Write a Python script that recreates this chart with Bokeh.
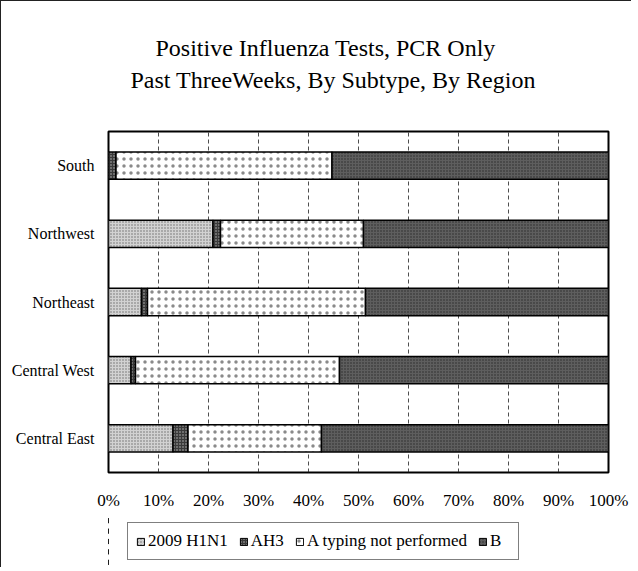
from bokeh.plotting import figure
from bokeh.layouts import column
from bokeh.models import FactorRange, Range1d, Legend, LegendItem, Title, FixedTicker, ColumnDataSource
from bokeh.embed import file_html
from bokeh.resources import INLINE

# ---- data ----
regions = ["Central East", "Central West", "Northeast", "Northwest", "South"]
h1n1 = [12.9, 4.5, 6.6, 20.9, 0.0]
ah3 = [3.0, 0.9, 1.2, 1.5, 1.5]
a_not_typed = [26.7, 40.8, 43.6, 28.6, 43.2]
b = [57.4, 53.8, 48.6, 49.0, 55.3]
series_names = ["2009 H1N1", "AH3", "A typing not performed", "B"]
tick_values = [0, 10, 20, 30, 40, 50, 60, 70, 80, 90, 100]
tick_labels = ["0%", "10%", "20%", "30%", "40%", "50%", "60%", "70%", "80%", "90%", "100%"]
title_lines = ["Positive Influenza  Tests, PCR Only", "Past ThreeWeeks, By Subtype, By Region"]

keys = ["h1n1", "ah3", "atnp", "b"]
source = ColumnDataSource(data=dict(region=regions, h1n1=h1n1, ah3=ah3, atnp=a_not_typed, b=b))

FONT = "Liberation Serif"
fills = ["#d2d2d2", "#3a3a3a", "#ffffff", "#5e5e5e"]
hatch_colors = ["#6a6a6a", "#bbbbbb", "#8a8a8a", "#2a2a2a"]
hatch_scales = [3, 3, 7, 3]
hatch_weights = [1, 1, 0.6, 1]

p = figure(frame_width=499, frame_height=340, output_backend="svg", toolbar_location=None,
           y_range=FactorRange(*regions, range_padding=0), x_range=Range1d(0, 100),
           min_border_left=107, min_border_right=24, min_border_bottom=44, min_border_top=130)
p.styles = {"border-left": "1px solid #222", "border-top": "1px solid #222"}

p.outline_line_color = "black"
p.outline_line_width = 2
p.background_fill_color = "white"
p.border_fill_color = "white"

renderers = p.hbar_stack(keys, y="region", height=0.4, source=source,
                         fill_color=fills, hatch_pattern=[".", ".", ".", "."],
                         hatch_color=hatch_colors, hatch_scale=hatch_scales,
                         hatch_weight=hatch_weights,
                         line_color="black", line_width=1.5)

# axes
p.xaxis.ticker = FixedTicker(ticks=tick_values)
p.xaxis.major_label_overrides = {v: l for v, l in zip(tick_values, tick_labels)}
p.xaxis.major_label_text_font = FONT
p.xaxis.major_label_text_font_size = "17px"
p.xaxis.major_label_text_color = "black"
p.xaxis.major_label_standoff = 12
p.xaxis.axis_line_color = None
p.xaxis.major_tick_line_color = None
p.xaxis.minor_tick_line_color = None

p.yaxis.major_label_text_font = FONT
p.yaxis.major_label_text_font_size = "16px"
p.yaxis.major_label_text_color = "black"
p.yaxis.major_label_standoff = 8
p.yaxis.axis_line_color = None
p.yaxis.major_tick_line_color = None

p.xgrid.grid_line_color = "#222222"
p.xgrid.grid_line_dash = "4 3"
p.xgrid.grid_line_width = 1
p.xgrid.grid_line_alpha = 0.8
p.ygrid.grid_line_color = None

# title (two lines)
t2 = Title(text=title_lines[1], align="left", text_font=FONT, text_font_size="24px",
           text_font_style="normal", text_color="black", offset=22, standoff=78)
t1 = Title(text=title_lines[0], align="left", text_font=FONT, text_font_size="24px",
           text_font_style="normal", text_color="black", offset=47, standoff=-70)
p.add_layout(t2, "above")
p.add_layout(t1, "above")

# ---- legend strip (separate small figure so the legend box is not clipped) ----
p2 = figure(frame_width=499, frame_height=52, output_backend="svg", toolbar_location=None,
            x_range=Range1d(200, 300), y_range=FactorRange(*regions),
            x_axis_location=None, y_axis_location=None,
            min_border_left=107, min_border_right=24, min_border_top=0, min_border_bottom=0)
p2.styles = {"border-left": "1px solid #222"}
p2.grid.grid_line_color = None
p2.outline_line_color = None
p2.background_fill_color = "white"
p2.border_fill_color = "white"

# same stacked series, outside this strip's visible x range: only used for legend swatches
legend_renderers = p2.hbar_stack(keys, y="region", height=0.4, source=source,
                                 fill_color=fills, hatch_pattern=[".", ".", ".", "."],
                                 hatch_color=hatch_colors, hatch_scale=hatch_scales,
                                 hatch_weight=hatch_weights,
                                 line_color="black", line_width=1)

legend = Legend(items=[LegendItem(label=n, renderers=[r]) for n, r in zip(series_names, legend_renderers)],
                orientation="horizontal", location=(19, 7))
legend.label_text_font = FONT
legend.label_text_font_size = "17px"
legend.label_text_color = "black"
legend.glyph_width = 9
legend.glyph_height = 9
legend.label_standoff = 3
legend.spacing = 11
legend.padding = 8
legend.margin = 0
legend.border_line_color = "black"
legend.border_line_width = 1.5
legend.background_fill_alpha = 1
p2.add_layout(legend)

layout = column(p, p2, spacing=0)
open("out.html", "w").write(file_html(layout, INLINE))
